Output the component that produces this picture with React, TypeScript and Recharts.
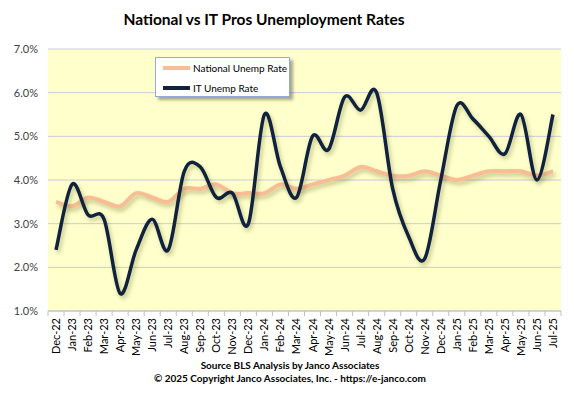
import { LineChart, Line, XAxis, YAxis, CartesianGrid } from "recharts";

const months = [
  "Dec-22", "Jan-23", "Feb-23", "Mar-23", "Apr-23", "May-23", "Jun-23", "Jul-23",
  "Aug-23", "Sep-23", "Oct-23", "Nov-23", "Dec-23", "Jan-24", "Feb-24", "Mar-24",
  "Apr-24", "May-24", "Jun-24", "Jul-24", "Aug-24", "Sep-24", "Oct-24", "Nov-24",
  "Dec-24", "Jan-25", "Feb-25", "Mar-25", "Apr-25", "May-25", "Jun-25", "Jul-25",
];

const nationalRate = [
  3.5, 3.4, 3.6, 3.5, 3.4, 3.7, 3.6, 3.5, 3.8, 3.8, 3.9, 3.7, 3.7, 3.7, 3.9, 3.8,
  3.9, 4.0, 4.1, 4.3, 4.2, 4.1, 4.1, 4.2, 4.1, 4.0, 4.1, 4.2, 4.2, 4.2, 4.1, 4.2,
];

const itRate = [
  2.4, 3.9, 3.2, 3.1, 1.4, 2.4, 3.1, 2.4, 4.2, 4.3, 3.6, 3.7, 3.0, 5.5, 4.3, 3.6,
  5.0, 4.7, 5.9, 5.6, 6.0, 3.8, 2.7, 2.2, 4.0, 5.7, 5.4, 5.0, 4.6, 5.5, 4.0, 5.5,
];

const yTicks = [1, 2, 3, 4, 5, 6, 7];

const seriesNames = ["National Unemp Rate", "IT Unemp Rate"];
const titleText = "National vs IT Pros Unemployment Rates";
const footerLines = [
  "Source BLS Analysis by Janco Associates",
  "\u00a9 2025 Copyright Janco Associates, Inc. - https://e-janco.com",
];

const NATIONAL_COLOR = "#F9BD94";
const IT_COLOR = "#10223D";
const FONT = "Lato, 'Open Sans', sans-serif";

const chartData = months.map((m, i) => ({
  month: m,
  national: nationalRate[i],
  it: itRate[i],
}));

const PLOT_W = 513;
const band = PLOT_W / months.length;

// excel style smoothing (catmull-rom through the points)
const excelCurve = (context: any) => {
  let pts: [number, number][] = [];
  return {
    areaStart() {},
    areaEnd() {},
    lineStart() {
      pts = [];
    },
    point(x: number, y: number) {
      pts.push([+x, +y]);
    },
    lineEnd() {
      const n = pts.length;
      if (!n) return;
      context.moveTo(pts[0][0], pts[0][1]);
      for (let i = 0; i < n - 1; i++) {
        const p0 = pts[Math.max(i - 1, 0)];
        const p1 = pts[i];
        const p2 = pts[i + 1];
        const p3 = pts[Math.min(i + 2, n - 1)];
        context.bezierCurveTo(
          p1[0] + (p2[0] - p0[0]) / 6,
          p1[1] + (p2[1] - p0[1]) / 6,
          p2[0] - (p3[0] - p1[0]) / 6,
          p2[1] - (p3[1] - p1[1]) / 6,
          p2[0],
          p2[1]
        );
      }
    },
  };
};

const MonthTick = (props: any) => {
  const { x, y, payload, index } = props;
  return (
    <g transform={`translate(${x},${y})`}>
      <line x1={-band / 2} y1={-7} x2={-band / 2} y2={-2} stroke="#BFBFBF" />
      {index === months.length - 1 && (
        <line x1={band / 2} y1={-7} x2={band / 2} y2={-2} stroke="#BFBFBF" />
      )}
      <text
        transform="rotate(-90)"
        x={0}
        y={0}
        dy={4}
        textAnchor="end"
        fontSize={11}
        fontFamily={FONT}
        fill="#000"
      >
        {payload.value}
      </text>
    </g>
  );
};

export default function App() {
  return (
    <div style={{ position: "relative", width: 574, height: 397, background: "#fff", fontFamily: FONT }}>
      <style>{`body{margin:0} .recharts-line-curve{filter:drop-shadow(2px 3px 2px rgba(90,90,20,0.35));}`}</style>
      <div
        style={{
          position: "absolute",
          left: 0,
          width: 528,
          top: 10,
          textAlign: "center",
          fontSize: 15.5,
          fontWeight: 700,
          color: "#000",
        }}
      >
        {titleText}
      </div>

      <LineChart
        width={574}
        height={397}
        data={chartData}
        margin={{ top: 49, right: 13, bottom: 36, left: 0 }}
      >
        <CartesianGrid vertical={false} stroke="#CBCBDD" fill="#FFFFCC" />
        <XAxis
          dataKey="month"
          interval={0}
          height={50}
          padding={{ left: band / 2, right: band / 2 }}
          tickLine={false}
          tickSize={5}
          tickMargin={2}
          axisLine={{ stroke: "#BFBFBF" }}
          tick={<MonthTick />}
        />
        <YAxis
          domain={[1, 7]}
          ticks={yTicks}
          width={48}
          axisLine={false}
          tickLine={false}
          tickSize={0}
          tickMargin={10}
          tickFormatter={(v: number) => `${v.toFixed(1)}%`}
          tick={{ fontSize: 11, fill: "#404040", fontFamily: FONT }}
        />
        <Line
          type={excelCurve as any}
          dataKey="national"
          stroke={NATIONAL_COLOR}
          strokeWidth={4}
          dot={false}
          isAnimationActive={false}
        />
        <Line
          type={excelCurve as any}
          dataKey="it"
          stroke={IT_COLOR}
          strokeWidth={3.5}
          dot={false}
          isAnimationActive={false}
        />
      </LineChart>

      <div
        style={{
          position: "absolute",
          left: 155,
          top: 57,
          width: 133,
          height: 38,
          background: "#fff",
          border: "1px solid #8FAADC",
          boxShadow: "3px 3px 3px rgba(0,0,0,0.35)",
          fontSize: 10,
          color: "#000",
        }}
      >
        {seriesNames.map((name, i) => (
          <div
            key={name}
            style={{ position: "absolute", left: 7, top: 4 + i * 20, display: "flex", alignItems: "center", height: 12 }}
          >
            <span
              style={{
                display: "inline-block",
                width: 27,
                height: i === 0 ? 4 : 3.5,
                background: i === 0 ? NATIONAL_COLOR : IT_COLOR,
                marginRight: 3,
              }}
            />
            <span>{name}</span>
          </div>
        ))}
      </div>

      {footerLines.map((t, i) => (
        <div
          key={t}
          style={{
            position: "absolute",
            left: 0,
            width: 580,
            top: 359 + i * 13,
            textAlign: "center",
            fontSize: 10,
            fontWeight: 700,
            color: "#000",
          }}
        >
          {t}
        </div>
      ))}
    </div>
  );
}
